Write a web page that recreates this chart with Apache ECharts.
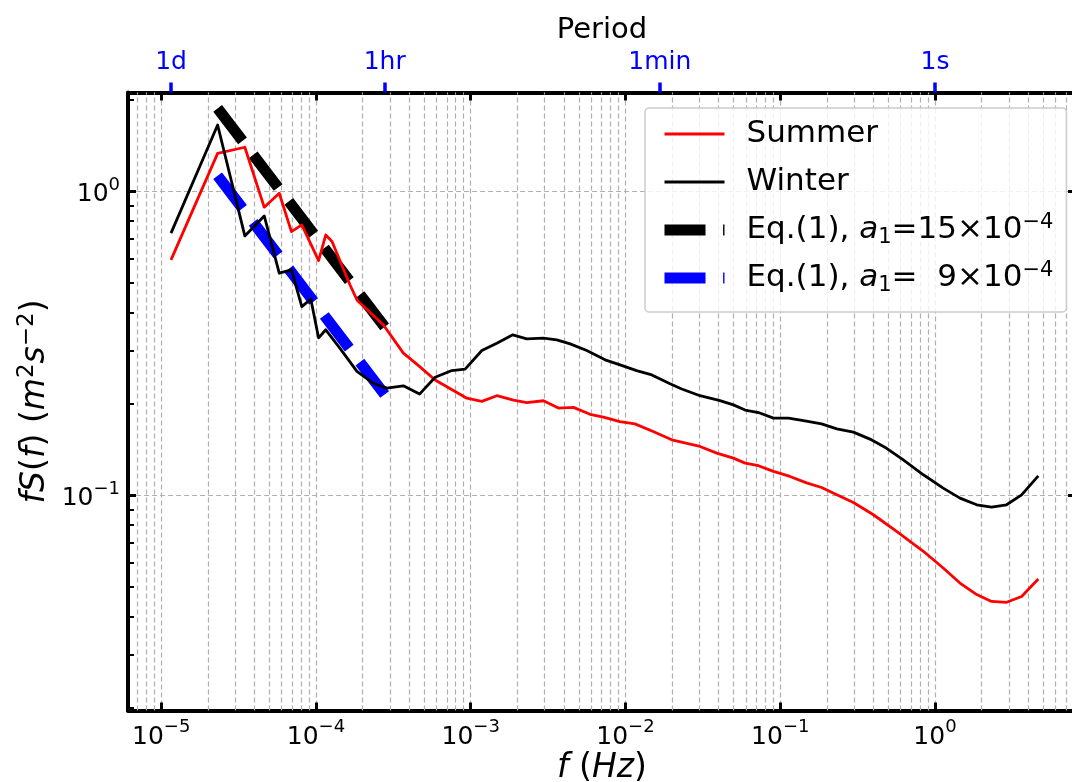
<!DOCTYPE html>
<html>
<head>
<meta charset="utf-8">
<script src="https://cdn.jsdelivr.net/npm/echarts@6/dist/echarts.min.js"></script>
<style>
  html, body { margin: 0; padding: 0; background: #fff; }
  #chart { width: 1072px; height: 782px; }
</style>
</head>
<body>
<div id="chart"></div>
<script>
// values: frequency (Hz) and fS(f) (m^2 s^-2)
var summerFreq = [1.157e-5, 2.315e-5, 3.47e-5, 4.63e-5, 5.79e-5, 6.94e-5, 8.1e-5, 1.04e-4, 1.157e-4, 1.27e-4,
  1.66e-4, 1.85e-4, 2.73e-4, 3.67e-4, 4.5e-4, 5.89e-4, 9.44e-4, 1.18e-3, 1.475e-3, 1.89e-3,
  2.30e-3, 2.95e-3, 3.69e-3, 4.61e-3, 5.9e-3, 7.2e-3, 9.2e-3, 1.15e-2, 1.51e-2, 1.99e-2,
  3.03e-2, 3.89e-2, 4.98e-2, 5.93e-2, 7.23e-2, 9.04e-2, 0.1156, 0.148, 0.185, 0.232,
  0.297, 0.40, 0.565, 0.841, 1.13, 1.45, 1.86, 2.32, 2.90, 3.63, 4.65];
var summerVal = [0.596, 1.337, 1.40, 0.889, 0.988, 0.739, 0.777, 0.593, 0.72, 0.685,
  0.493, 0.438, 0.364, 0.294, 0.27, 0.240, 0.209, 0.204, 0.213, 0.206,
  0.202, 0.205, 0.194, 0.195, 0.185, 0.181, 0.175, 0.172, 0.1624, 0.1525,
  0.145, 0.1378, 0.1327, 0.1278, 0.1253, 0.120, 0.1155, 0.110, 0.1062, 0.1005,
  0.0948, 0.0864, 0.0762, 0.0655, 0.0577, 0.0515, 0.0472, 0.0448, 0.0445, 0.0465, 0.0531];

var winterFreq = [1.157e-5, 2.315e-5, 3.47e-5, 4.63e-5, 5.79e-5, 6.94e-5, 8.1e-5, 9.26e-5, 1.04e-4, 1.157e-4,
  1.43e-4, 1.84e-4, 2.35e-4, 2.87e-4, 3.67e-4, 4.67e-4, 5.89e-4, 7.55e-4, 9.2e-4, 1.18e-3,
  1.475e-3, 1.87e-3, 2.30e-3, 2.95e-3, 3.60e-3, 4.39e-3, 5.62e-3, 7.38e-3, 9.23e-3, 1.18e-2,
  1.48e-2, 1.94e-2, 2.31e-2, 3.03e-2, 4.08e-2, 4.98e-2, 5.93e-2, 7.23e-2, 9.04e-2, 0.113,
  0.1445, 0.185, 0.232, 0.297, 0.38, 0.487, 0.624, 0.841, 1.13, 1.45,
  1.86, 2.32, 2.90, 3.63, 4.65];
var winterVal = [0.73, 1.657, 0.715, 0.832, 0.539, 0.553, 0.4185, 0.443, 0.33, 0.351,
  0.305, 0.256, 0.234, 0.2255, 0.2296, 0.2156, 0.245, 0.2577, 0.2606, 0.2999,
  0.317, 0.3378, 0.3278, 0.3294, 0.3252, 0.3155, 0.2999, 0.2795, 0.269, 0.2577,
  0.2494, 0.2331, 0.224, 0.213, 0.2053, 0.1987, 0.191, 0.1875, 0.1797, 0.1797,
  0.176, 0.172, 0.1657, 0.1616, 0.1533, 0.143, 0.131, 0.117, 0.1057, 0.098,
  0.0932, 0.0916, 0.0932, 0.1005, 0.116];

// Eq.(1) lines, end points
var eqFreq = [2.315e-5, 2.778e-4];
var eqA15 = [1.88, 0.359];
var eqA9 = [1.128, 0.215];

// top axis: period
var periodLabels = ['1d', '1hr', '1min', '1s'];
var periodSeconds = [86400, 3600, 60, 1];

var xMin = 6.1e-6, xMax = 8.15;
var yMin = 0.0196, yMax = 2.12;

var FONT = 'DejaVu Sans';
var MINUS = '\u2212';

function zip(a, b) {
  return a.map(function (v, i) { return [v, b[i]]; });
}

function powLabel(v) {
  var e = Math.round(Math.log10(v));
  return '{b|10}{s|' + (e < 0 ? MINUS + (-e) : e) + '}';
}

var powRich = {
  b: { fontFamily: FONT, fontSize: 25, color: '#000', lineHeight: 31, verticalAlign: 'bottom' },
  s: { fontFamily: FONT, fontSize: 18, color: '#000', lineHeight: 18, verticalAlign: 'top' }
};

function mathRich(size, sub) {
  return {
    n: { fontFamily: FONT, fontSize: size, color: '#000', lineHeight: size + 5 },
    i: { fontFamily: FONT, fontSize: size, color: '#000', fontStyle: 'italic', lineHeight: size + 5 },
    sup: { fontFamily: FONT, fontSize: sub, color: '#000', lineHeight: sub - 6, verticalAlign: 'top' },
    sub: { fontFamily: FONT, fontSize: sub, color: '#000', lineHeight: sub - 1, verticalAlign: 'bottom' }
  };
}
var titleRich = mathRich(33, 23);
var legendRich = mathRich(31, 21);

// minor grid positions 2..9 x 10^k
var minorX = [];
for (var k = -6; k <= 0; k++) {
  for (var m = 2; m <= 9; m++) {
    var v = m * Math.pow(10, k);
    if (v > xMin && v < xMax) minorX.push(v);
  }
}
var minorY = [];
for (var k2 = -2; k2 <= 0; k2++) {
  for (var m2 = 2; m2 <= 9; m2++) {
    var w = m2 * Math.pow(10, k2);
    if (w > yMin && w < yMax) minorY.push(w);
  }
}

var gridLine = { color: '#b0b0b0', width: 1.2, type: [5, 3] };
var spine = { show: true, onZero: false, lineStyle: { color: '#000', width: 4 } };
var majorTick = { show: true, inside: true, length: 8, lineStyle: { color: '#000', width: 3 } };

var legendNames = {
  'Summer': '{n|Summer}',
  'Winter': '{n|Winter}',
  'EqA': '{n|Eq.(1), }{i|a}{sub|1}{n|=15\u00d710}{sup|' + MINUS + '4}',
  'EqB': '{n|Eq.(1), }{i|a}{sub|1}{n|=  9\u00d710}{sup|' + MINUS + '4}'
};

var periodPos = periodSeconds.map(function (s) { return Math.log10(1 / s); });

var chart = echarts.init(document.getElementById('chart'));

var option = {
  animation: false,
  backgroundColor: '#fff',
  grid: { left: 128, right: -4, top: 92.5, bottom: 71.5, containLabel: false, outerBoundsMode: 'none' },
  legend: {
    orient: 'vertical',
    left: 645,
    top: 108,
    padding: [8, 13, 16, 14],
    itemWidth: 60,
    itemHeight: 14,
    itemGap: 12,
    selectedMode: false,
    backgroundColor: 'rgba(255,255,255,0.8)',
    borderColor: '#cccccc',
    borderWidth: 1.5,
    borderRadius: 4,
    itemStyle: { opacity: 0 },
    textStyle: {
      fontFamily: FONT, fontSize: 31, color: '#000', lineHeight: 36, height: 36,
      padding: [0, 0, 0, 17], rich: legendRich
    },
    formatter: function (name) { return legendNames[name]; },
    data: [
      { name: 'Summer', lineStyle: { width: 2.8 } },
      { name: 'Winter', lineStyle: { width: 2.8 } },
      { name: 'EqA', lineStyle: { width: 11 } },
      { name: 'EqB', lineStyle: { width: 11 } }
    ]
  },
  xAxis: [
    {
      type: 'log', position: 'bottom', min: xMin, max: xMax,
      axisLine: spine, axisTick: majorTick,
      axisLabel: {
        margin: 8, showMinLabel: false, showMaxLabel: false,
        formatter: powLabel, rich: powRich
      },
      splitLine: { show: true, lineStyle: gridLine },
      name: '{i|f}{n| (}{i|Hz}{n|)}',
      nameLocation: 'middle', nameGap: 39, nameMoveOverlap: false,
      nameTextStyle: { rich: titleRich }
    },
    {
      type: 'log', position: 'top', min: xMin, max: xMax,
      axisLine: spine, axisTick: majorTick,
      axisLabel: { show: false }, splitLine: { show: false }
    },
    {
      type: 'value', position: 'top', min: Math.log10(xMin), max: Math.log10(xMax),
      axisLine: { show: false, onZero: false },
      axisTick: {
        show: true, inside: false, length: 10,
        lineStyle: { color: '#0000ff', width: 3.5 },
        customValues: periodPos
      },
      axisLabel: {
        show: true, margin: 18, color: '#0000ff', fontFamily: FONT, fontSize: 25,
        customValues: periodPos,
        formatter: function (val) {
          for (var i = 0; i < periodPos.length; i++) {
            if (Math.abs(periodPos[i] - val) < 1e-6) return periodLabels[i];
          }
          return '';
        }
      },
      splitLine: { show: false },
      name: 'Period', nameLocation: 'middle', nameGap: 48, nameMoveOverlap: false,
      nameTextStyle: { fontFamily: FONT, fontSize: 29, color: '#000' }
    }
  ],
  yAxis: [
    {
      type: 'log', position: 'left', min: yMin, max: yMax,
      axisLine: spine, axisTick: majorTick,
      axisLabel: {
        margin: 8, showMinLabel: false, showMaxLabel: false,
        formatter: powLabel, rich: powRich
      },
      splitLine: { show: true, lineStyle: gridLine },
      name: '{i|fS}{n|(}{i|f}{n|) (}{i|m}{sup|2}{i|s}{sup|' + MINUS + '2}{n|)}',
      nameLocation: 'middle', nameGap: 74, nameRotate: 90, nameMoveOverlap: false,
      nameTextStyle: { rich: titleRich }
    },
    {
      type: 'log', position: 'right', min: yMin, max: yMax,
      axisLine: spine, axisTick: majorTick,
      axisLabel: { show: false }, splitLine: { show: false }
    }
  ],
  series: [
    {
      name: 'guides', type: 'line', data: [], silent: true,
      markLine: {
        z: 1, silent: true, symbol: ['none', 'none'], label: { show: false },
        lineStyle: gridLine,
        data: minorX.map(function (v) {
          return [{ coord: [v, yMin * 1.0005] }, { coord: [v, yMax * 0.9995] }];
        })
      }
    },
    {
      name: 'yminor', type: 'line', data: [], silent: true,
      markLine: {
        z: 3, silent: true, symbol: ['none', 'none'], label: { show: false },
        lineStyle: { color: '#000', width: 2, type: 'solid' },
        data: minorY.map(function (v) {
          return [{ coord: [xMin * 1.0005, v] }, { coord: [xMin * Math.pow(10, 6 / 154.8), v] }];
        })
      }
    },
    {
      name: 'EqA', type: 'line', data: zip(eqFreq, eqA15), symbol: 'none', z: 2,
      lineStyle: { color: '#000', width: 11, type: [41, 17.6], cap: 'butt' },
      itemStyle: { color: '#000' }
    },
    {
      name: 'EqB', type: 'line', data: zip(eqFreq, eqA9), symbol: 'none', z: 2,
      lineStyle: { color: '#0000ff', width: 11, type: [41, 17.6], cap: 'butt' },
      itemStyle: { color: '#0000ff' }
    },
    {
      name: 'Summer', type: 'line', data: zip(summerFreq, summerVal), symbol: 'none', z: 3,
      lineStyle: { color: '#ff0000', width: 2.8, join: 'round' },
      itemStyle: { color: '#ff0000' }
    },
    {
      name: 'Winter', type: 'line', data: zip(winterFreq, winterVal), symbol: 'none', z: 3,
      lineStyle: { color: '#000', width: 2.8, join: 'round' },
      itemStyle: { color: '#000' }
    }
  ]
};

chart.setOption(option);
</script>
</body>
</html>
